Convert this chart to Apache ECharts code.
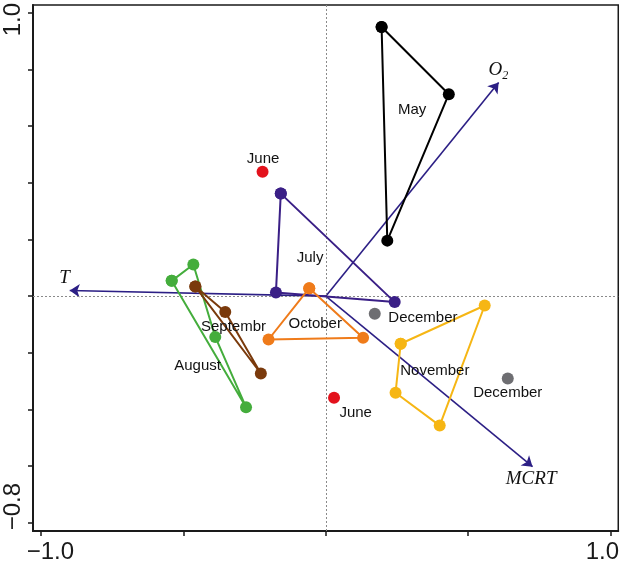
<!DOCTYPE html>
<html><head><meta charset="utf-8">
<script src="https://cdn.jsdelivr.net/npm/echarts@6/dist/echarts.min.js"></script>
<style>html,body{margin:0;padding:0;background:#fff}#c{width:622px;height:564px}</style>
</head><body><div id="c"></div>
<script>
// ---- data ----
const xTicks = [-1, -0.5, 0, 0.5, 1];
const yTicks = [-0.8, -0.6, -0.4, -0.2, 0, 0.2, 0.4, 0.6, 0.8, 1.0];
const xTickLabels = ['−1.0', '1.0'];      // at x = -1, 1
const xTickLabelValues = [-1, 1];
const yTickLabels = ['1.0', '−0.8'];      // at y = 1, -0.8
const yTickLabelValues = [1, -0.8];

const may       = [[0.196, 0.950], [0.432, 0.713], [0.216, 0.196]];
const july      = [[-0.158, 0.362], [0.242, -0.021], [-0.175, 0.013]];
const august    = [[-0.541, 0.054], [-0.465, 0.112], [-0.388, -0.144], [-0.280, -0.392]];
const september = [[-0.458, 0.034], [-0.353, -0.056], [-0.228, -0.273]];
const october   = [[-0.058, 0.028], [0.131, -0.147], [-0.201, -0.153]];
const november  = [[0.263, -0.168], [0.558, -0.033], [0.400, -0.457], [0.245, -0.341]];
const june      = [[-0.222, 0.439], [0.029, -0.359]];
const december  = [[0.172, -0.062], [0.639, -0.291]];

const vectorNames = ['O2', 'T', 'MCRT'];
const vectorEnds  = [[0.607, 0.754], [-0.899, 0.020], [0.726, -0.602]];
const vectorLabelAt = [[0.606, 0.797], [-0.917, 0.064], [0.721, -0.646]];

const monthLabelNames = ['May', 'June', 'July', 'Septembr', 'August', 'October', 'December', 'November', 'December', 'June'];
const monthLabelAt = [[0.303, 0.656], [-0.220, 0.486], [-0.055, 0.136], [-0.324, -0.107], [-0.450, -0.246],
                      [-0.037, -0.098], [0.341, -0.075], [0.383, -0.264], [0.639, -0.343], [0.105, -0.413]];

// ---- chart ----
const SANS = 'Liberation Sans, Arial, sans-serif';
const SERIF = 'Liberation Serif, Times New Roman, serif';
const ARROW = '#2c1f85';
const TEXT = '#111111';
const close = a => a.concat([a[0]]);
const xLabelNudge = v => v < 0 ? v + 0.033 : v - 0.029;
const yLabelNudge = v => v > 0 ? v - 0.024 : v + 0.057;

function poly(name, pts, color) {
  return {
    type: 'line', name, data: close(pts), symbol: 'circle', symbolSize: 12,
    itemStyle: { color, opacity: 1 }, lineStyle: { color, width: 2 }, z: 5, animation: false
  };
}
function dots(name, pts, color) {
  return { type: 'scatter', name, data: pts, symbolSize: 12, itemStyle: { color, opacity: 1 }, z: 5, animation: false };
}

const chart = echarts.init(document.getElementById('c'), null, { renderer: 'canvas' });
chart.setOption({
  backgroundColor: '#fff',
  animation: false,
  grid: { left: 33, right: 2, top: 1, bottom: 32.5, show: true, borderColor: '#1a1a1a', borderWidth: 1.5, backgroundColor: 'transparent' },
  xAxis: {
    type: 'value', min: -1.028, max: 1.027,
    axisLine: { show: true, onZero: false, lineStyle: { color: '#1a1a1a', width: 2 } },
    axisTick: { show: true, customValues: xTicks, length: 5, lineStyle: { color: '#1a1a1a', width: 1.5 } },
    axisLabel: {
      show: true, customValues: xTickLabelValues.map(xLabelNudge), margin: 9,
      fontSize: 24, fontFamily: SANS, color: '#1a1a1a',
      formatter: v => xTickLabels[v < 0 ? 0 : 1]
    },
    splitLine: { show: false }
  },
  yAxis: {
    type: 'value', min: -0.829, max: 1.028,
    axisLine: { show: true, onZero: false, lineStyle: { color: '#1a1a1a', width: 2 } },
    axisTick: { show: true, customValues: yTicks, length: 5, lineStyle: { color: '#1a1a1a', width: 1.5 } },
    axisLabel: {
      show: true, customValues: yTickLabelValues.map(yLabelNudge), rotate: 90, margin: 8,
      fontSize: 24, fontFamily: SANS, color: '#1a1a1a',
      formatter: v => yTickLabels[v > 0 ? 0 : 1]
    },
    splitLine: { show: false }
  },
  series: [
    {
      type: 'scatter', data: [], silent: true,
      markLine: {
        silent: true, symbol: 'none', animation: false,
        label: { show: false },
        lineStyle: { type: [2, 2], color: '#8a8a8a', width: 1 },
        data: [{ xAxis: 0 }, { yAxis: 0 }]
      }
    },
    {
      type: 'lines', coordinateSystem: 'cartesian2d', z: 4, animation: false,
      symbol: ['none', 'arrow'], symbolSize: [0, 10],
      lineStyle: { color: ARROW, width: 1.6, opacity: 1 },
      data: vectorEnds.map(e => ({ coords: [[0, 0], e] }))
    },
    poly('May', may, '#000000'),
    poly('July', july, '#3a1f86'),
    poly('August', august, '#44ad3c'),
    poly('September', september, '#7a3a0c'),
    poly('October', october, '#ef7b1a'),
    poly('November', november, '#f6b614'),
    dots('June', june, '#e3121c'),
    dots('December', december, '#6e6e72'),
    {
      type: 'scatter', silent: true, z: 6, symbolSize: 1, itemStyle: { color: 'transparent', opacity: 1 },
      data: monthLabelNames.map((n, i) => ({ name: n, value: monthLabelAt[i] })),
      label: { show: true, position: 'inside', formatter: '{b}', fontSize: 15, fontFamily: SANS, color: TEXT, opacity: 1 }
    },
    {
      type: 'scatter', silent: true, z: 6, symbolSize: 1, itemStyle: { color: 'transparent', opacity: 1 },
      data: vectorNames.map((n, i) => ({ name: n, value: vectorLabelAt[i] })),
      label: {
        show: true, position: 'inside', color: TEXT, opacity: 1,
        formatter: p => p.name === 'O2' ? '{i|O}{s|2}' : '{i|' + p.name + '}',
        rich: {
          i: { fontSize: 19, fontStyle: 'italic', fontFamily: SERIF, color: TEXT },
          s: { fontSize: 12, fontStyle: 'italic', fontFamily: SERIF, color: TEXT, verticalAlign: 'bottom', padding: [10, 0, 0, 0] }
        }
      }
    }
  ]
});
</script></body></html>
